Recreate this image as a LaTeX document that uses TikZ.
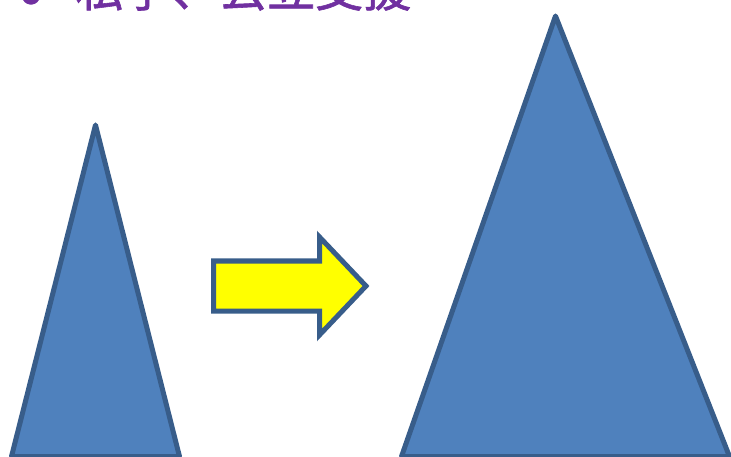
\documentclass[tikz,border=0pt]{standalone}
\usepackage{fontspec}
\newfontfamily\jpfont{Noto Sans CJK JP}[FakeBold=1.2]
\definecolor{triblue}{HTML}{4F81BD}
\definecolor{edgeblue}{HTML}{385D8A}
\definecolor{titlepurple}{HTML}{7030A0}
\definecolor{arrowyellow}{HTML}{FFFF00}
\begin{document}
\begin{tikzpicture}[x=1pt,y=-1pt,
  triangleshape/.style={fill=triblue,draw=edgeblue,line width=5pt,line join=round},
  arrowshape/.style={fill=arrowyellow,draw=edgeblue,line width=5pt,line join=miter}]
\useasboundingbox (0,0) rectangle (731,457);
\clip (0,0) rectangle (731,457);
% title
\node[anchor=base west,inner sep=0,text=titlepurple,font=\jpfont\fontsize{48}{48}\selectfont] (title) at (75,6.6) {私学、公立支援};
\node[anchor=center,inner sep=0,text=titlepurple,font=\jpfont\fontsize{20}{20}\selectfont] (bullet) at (31,-4.5) {●};
% left small triangle
\draw[triangleshape] (95.5,125) -- (11.5,456.5) -- (179.5,456.5) -- cycle;
% arrow
\draw[arrowshape] (213.5,261) -- (319.5,261) -- (319.5,237) -- (366,286) -- (319.5,335) -- (319.5,311) -- (213.5,311) -- cycle;
% right large triangle
\draw[triangleshape] (555.5,16) -- (401.5,456.5) -- (729.5,456.5) -- cycle;
\end{tikzpicture}
\end{document}
